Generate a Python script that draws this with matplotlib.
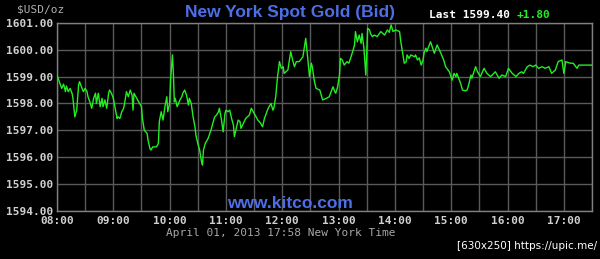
import matplotlib
matplotlib.use("Agg")
import matplotlib.pyplot as plt
import numpy as np

# minutes after 08:00 (New York time)
minutes = [0, 3, 5, 7, 9, 10, 12, 14, 16, 17, 19, 21, 23, 24, 26, 28, 30, 32, 33, 35,
           37, 39, 41, 42, 44, 46, 48, 49, 51, 53, 55, 56, 58, 60, 62, 64, 65, 67, 69, 71,
           72, 74, 76, 78, 80, 81, 82, 84, 87, 90, 91, 93, 96, 97, 99, 100, 102, 106, 108, 109,
           111, 113, 115, 117, 118, 120, 121, 123, 124, 125, 126, 128, 131, 133, 134, 136, 138, 140, 141, 143,
           145, 147, 148, 150, 152, 154, 155, 156, 158, 161, 164, 166, 168, 170, 172, 173, 175, 177, 179, 180,
           182, 184, 186, 188, 189, 191, 193, 195, 196, 201, 205, 207, 210, 214, 217, 219, 221, 225, 228, 230,
           231, 233, 235, 237, 239, 241, 242, 246, 249, 251, 253, 255, 258, 262, 265, 267, 269, 271, 272, 274,
           276, 280, 283, 287, 290, 292, 294, 296, 297, 299, 301, 302, 304, 306, 309, 311, 315, 317, 318, 320,
           322, 324, 325, 327, 329, 331, 333, 334, 336, 338, 341, 345, 349, 352, 354, 356, 358, 361, 365, 366,
           368, 370, 372, 373, 375, 377, 381, 382, 384, 386, 388, 390, 391, 393, 394, 398, 402, 405, 409, 412,
           414, 418, 421, 423, 425, 426, 430, 432, 435, 437, 439, 441, 442, 446, 448, 451, 455, 458, 462, 467,
           471, 474, 478, 481, 485, 489, 492, 495, 497, 501, 504, 507, 510, 513, 517, 520, 524, 527, 531, 534,
           538, 540, 542, 547, 550, 554, 556, 570]

bid = [1599.05, 1598.75, 1598.56, 1598.72, 1598.44, 1598.65, 1598.44, 1598.56, 1598.38, 1598.19,
       1597.50, 1597.75, 1598.69, 1598.81, 1598.62, 1598.44, 1598.56, 1598.44, 1598.25, 1598.06,
       1597.82, 1598.19, 1598.38, 1598.00, 1598.38, 1597.88, 1598.19, 1597.88, 1598.13, 1597.82,
       1598.38, 1598.50, 1598.38, 1598.19, 1597.82, 1597.44, 1597.50, 1597.44, 1597.69, 1597.82,
       1598.00, 1598.44, 1598.25, 1598.50, 1598.31, 1597.75, 1598.38, 1598.25, 1598.06, 1597.88,
       1597.44, 1597.00, 1596.88, 1596.63, 1596.32, 1596.26, 1596.38, 1596.38, 1596.51, 1597.32,
       1597.69, 1597.38, 1597.88, 1598.25, 1597.69, 1598.00, 1598.87, 1599.81, 1599.12, 1598.06,
       1598.19, 1597.88, 1598.13, 1598.25, 1598.38, 1598.50, 1598.31, 1597.94, 1598.19, 1598.00,
       1597.50, 1597.13, 1596.82, 1596.51, 1596.26, 1595.82, 1595.70, 1596.26, 1596.51, 1596.70,
       1597.00, 1597.26, 1597.50, 1597.57, 1597.69, 1597.82, 1597.44, 1596.94, 1597.63, 1597.75,
       1597.69, 1597.75, 1597.44, 1597.19, 1596.76, 1597.07, 1597.38, 1597.32, 1597.07, 1597.44,
       1597.57, 1597.82, 1597.63, 1597.38, 1597.26, 1597.13, 1597.44, 1597.82, 1598.00, 1597.75,
       1597.82, 1598.25, 1599.00, 1599.56, 1599.31, 1599.37, 1599.12, 1599.25, 1599.93, 1599.62,
       1599.37, 1599.56, 1599.56, 1599.74, 1600.43, 1599.74, 1599.00, 1599.50, 1599.37, 1598.87,
       1598.56, 1598.50, 1598.13, 1598.19, 1598.25, 1598.44, 1598.62, 1598.44, 1598.38, 1598.62,
       1599.06, 1599.68, 1599.62, 1599.43, 1599.56, 1599.50, 1599.93, 1600.18, 1600.68, 1600.30,
       1600.55, 1600.24, 1600.61, 1600.06, 1599.06, 1600.80, 1600.74, 1600.61, 1600.49, 1600.55,
       1600.49, 1600.68, 1600.55, 1600.74, 1600.65, 1600.93, 1600.68, 1600.74, 1600.68, 1600.37,
       1599.93, 1599.50, 1599.55, 1599.81, 1599.68, 1599.81, 1599.74, 1599.81, 1599.62, 1599.70,
       1599.43, 1599.62, 1599.87, 1600.06, 1599.93, 1600.30, 1599.87, 1600.18, 1599.87, 1599.62,
       1599.37, 1599.18, 1598.87, 1599.12, 1599.00, 1599.12, 1598.75, 1598.50, 1598.47, 1598.50,
       1598.75, 1599.06, 1598.94, 1599.37, 1599.18, 1599.00, 1599.31, 1599.12, 1599.00, 1599.18,
       1598.94, 1599.06, 1599.00, 1599.31, 1599.12, 1599.00, 1599.12, 1599.18, 1599.12, 1599.37,
       1599.43, 1599.37, 1599.43, 1599.31, 1599.37, 1599.31, 1599.37, 1599.12, 1599.25, 1599.56,
       1599.62, 1599.12, 1599.56, 1599.50, 1599.50, 1599.31, 1599.43, 1599.43]

hour_labels = ["08:00", "09:00", "10:00", "11:00", "12:00", "13:00", "14:00", "15:00", "16:00", "17:00"]
price_ticks = [1594, 1595, 1596, 1597, 1598, 1599, 1600, 1601]

title = "New York Spot Gold (Bid)"
unit_label = "$USD/oz"
last_text = "Last 1599.40"
change_text = "+1.80"
site_text = "www.kitco.com"
date_text = "April 01, 2013 17:58 New York Time"
watermark = "[630x250] https://upic.me/"

W, H = 600, 259
fig = plt.figure(figsize=(W / 100, H / 100), dpi=100, facecolor="black")
left, right, top, bottom = 57, 592, 23, 210.7
ax = fig.add_axes([left / W, 1 - bottom / H, (right - left) / W, (bottom - top) / H])
ax.set_facecolor("black")

ax.plot(minutes, bid, color="#22ee22", lw=1.0, zorder=3)

ax.set_xlim(0, 570)
ax.set_ylim(1594, 1601)
ax.set_xticks(np.arange(len(hour_labels)) * 60)
ax.set_xticks(np.arange(0, 571, 30), minor=True)
ax.set_xticklabels(hour_labels)
ax.set_yticks(price_ticks)
ax.set_yticklabels([f"{p:.2f}" for p in price_ticks])

mono = "DejaVu Sans Mono"
ax.tick_params(axis="both", which="both", length=0, colors="#d0d0d0", labelsize=8)
ax.tick_params(axis="y", pad=3)
ax.tick_params(axis="x", pad=4)
for lab in ax.get_xticklabels() + ax.get_yticklabels():
    lab.set_family(mono)
    lab.set_fontweight("bold")

ax.grid(True, which="both", color="#5a5a5a", lw=1.0, zorder=1)
ax.set_axisbelow(True)
for s in ax.spines.values():
    s.set_color("#808080")
    s.set_linewidth(1.0)

fig.text(290 / W, 1 - 12 / H, title, color="#4d6fe6", fontsize=12.5, fontweight="bold",
         family="Liberation Sans", ha="center", va="center")
fig.text(41 / W, 1 - 10 / H, unit_label, color="#b0b0b0", fontsize=8, family=mono,
         ha="center", va="center")
fig.text(429 / W, 1 - 15 / H, last_text, color="white", fontsize=8, family=mono,
         fontweight="bold", ha="left", va="center")
fig.text(517 / W, 1 - 15 / H, change_text, color="#22ee22", fontsize=8, family=mono,
         fontweight="bold", ha="left", va="center")
fig.text(290 / W, 1 - 203 / H, site_text, color="#4d6fe6", fontsize=12.5, fontweight="bold",
         family="Liberation Sans", ha="center", va="center")
fig.text(281 / W, 1 - 233 / H, date_text, color="#a8a8a8", fontsize=8, family=mono,
         ha="center", va="center")
fig.text(597 / W, 1 - 246 / H, watermark, color="white", fontsize=7.5, family="DejaVu Sans",
         ha="right", va="center")

fig.savefig("out.png", dpi=100, facecolor="black")
